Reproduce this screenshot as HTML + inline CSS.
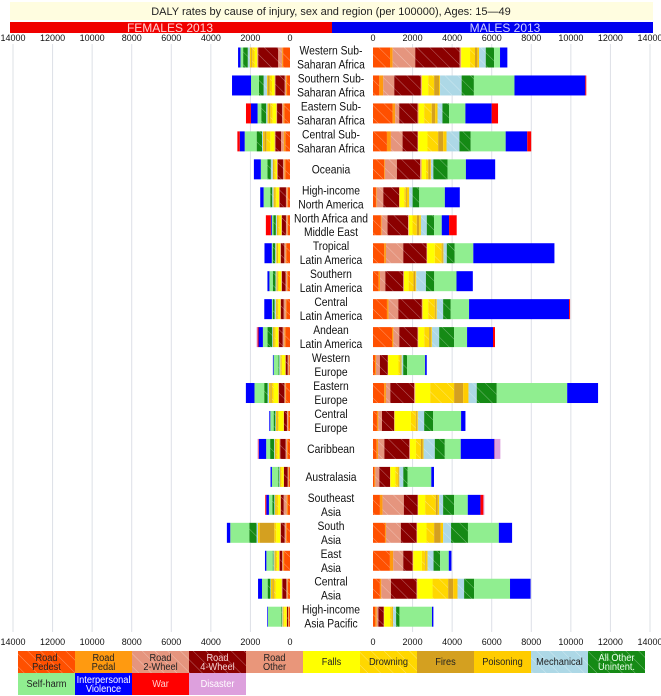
<!DOCTYPE html>
<html><head><meta charset="utf-8">
<style>
body{margin:0;background:#fff;font-family:"Liberation Sans",sans-serif;}
svg{display:block}
</style></head>
<body>
<svg id="chart" width="661" height="696" viewBox="0 0 661 696" xmlns="http://www.w3.org/2000/svg">
<defs>
<pattern id="hatch" width="9" height="9" patternUnits="userSpaceOnUse" patternTransform="rotate(-45)">
<line x1="0" y1="0" x2="0" y2="9" stroke="rgba(255,255,255,0.5)" stroke-width="0.8"/>
</pattern>
</defs>
<rect x="10" y="2" width="643" height="18" fill="#fffde0"/>
<text x="331" y="15" font-size="11" text-anchor="middle" fill="#222">DALY rates by cause of injury, sex and region (per 100000), Ages: 15—49</text>
<rect x="10" y="22" width="322" height="11" fill="#f00000"/>
<rect x="332" y="22" width="321" height="11" fill="#0000f0"/>
<text x="170" y="32" font-size="12" text-anchor="middle" fill="#ffd0d0">FEMALES 2013</text>
<text x="505" y="32" font-size="12" text-anchor="middle" fill="#d0d0ff">MALES 2013</text>
<g id="grid"></g>
<g id="axes"></g>
<g id="bars"></g>
<g id="labels"></g>
<g id="legend"></g>
</svg>
<script>
const regions=[["Western Sub-","Saharan Africa"],["Southern Sub-","Saharan Africa"],["Eastern Sub-","Saharan Africa"],["Central Sub-","Saharan Africa"],["Oceania"],["High-income","North America"],["North Africa and","Middle East"],["Tropical","Latin America"],["Southern","Latin America"],["Central","Latin America"],["Andean","Latin America"],["Western","Europe"],["Eastern","Europe"],["Central","Europe"],["Caribbean"],["Australasia"],["Southeast","Asia"],["South","Asia"],["East","Asia"],["Central","Asia"],["High-income","Asia Pacific"]];
const causes=["Road Pedest","Road Pedal","Road 2-Wheel","Road 4-Wheel","Road Other","Falls","Drowning","Fires","Poisoning","Mechanical","All Other Unintent","Self-harm","Interpersonal Violence","War","Disaster"];
const colors=["#ff5000","#ff9a10","#e5957e","#8b0000","#e9967a","#ffff00","#ffd700","#d4a020","#ffcc00","#add8e6","#158a15","#90ee90","#0000ff","#ff0000","#dda0dd"];
const hatched=[1,0,1,1,0,0,1,0,0,1,1,0,0,0,0];
const ticks=[0,2000,4000,6000,8000,10000,12000,14000];
const males=[
[860,135,1140,2250,70,450,250,120,85,340,420,300,370,0,0],
[320,200,555,1345,50,320,300,250,50,1090,620,2050,3580,50,0],
[990,135,200,925,50,285,385,170,120,250,335,825,1330,320,0],
[705,200,590,755,35,470,540,250,170,655,570,1765,1090,200,0],
[570,35,605,1175,70,220,120,100,35,120,720,925,1480,0,0],
[150,35,335,805,17,235,85,50,120,170,335,1295,755,0,0],
[400,35,300,1040,35,185,220,120,85,300,370,385,370,385,0],
[570,85,875,1175,35,385,350,50,35,170,400,940,4100,0,0],
[285,70,270,905,35,235,250,85,50,490,420,1125,825,0,0],
[705,85,490,1190,35,285,335,50,50,320,385,925,5055,50,0],
[960,70,300,925,35,300,250,85,50,370,755,655,1310,100,0],
[100,50,200,400,17,520,85,35,35,85,200,905,85,0,0],
[570,85,220,1210,50,755,1210,455,270,420,1010,3560,1560,0,0],
[200,70,185,620,17,825,250,50,50,320,455,1410,220,0,0],
[185,70,320,1260,35,300,250,85,50,570,505,805,1700,17,285],
[70,50,200,540,17,250,135,35,35,200,220,1195,135,0,0],
[350,135,1075,690,35,350,540,100,70,200,555,690,640,150,50],
[605,50,755,790,35,470,385,335,120,400,855,1560,670,0,0],
[855,170,505,470,35,435,170,35,85,300,335,435,135,0,0],
[350,70,490,1295,35,770,790,250,220,335,505,1815,1040,0,0],
[120,70,85,270,17,300,85,35,35,150,170,1645,70,0,0]];
const females=[
[350,50,200,1010,50,120,135,50,70,100,235,135,120,0,0],
[150,50,70,470,35,135,120,100,35,170,235,400,960,0,0],
[285,50,70,250,35,185,120,70,70,70,250,185,335,250,0],
[235,85,135,285,35,220,200,100,70,50,270,605,250,120,0],
[235,50,70,270,35,70,70,35,35,100,170,335,350,0,0],
[100,35,70,320,35,135,50,35,50,70,100,335,170,0,0],
[100,35,70,200,35,85,70,35,35,50,120,85,50,250,0],
[185,35,70,170,35,100,35,35,35,50,120,50,370,0,0],
[120,35,70,185,35,135,35,35,35,50,135,170,100,0,0],
[185,35,100,135,35,100,50,35,35,70,85,50,385,0,0],
[235,50,85,185,35,135,70,35,35,35,235,235,220,50,50],
[35,35,50,100,17,170,35,17,35,50,35,250,35,0,0],
[200,35,50,270,35,235,100,70,70,70,170,490,435,0,0],
[70,35,50,150,17,250,50,35,50,35,85,170,50,0,0],
[120,35,70,270,35,100,70,35,35,35,200,200,370,17,50],
[50,35,35,185,17,100,35,17,35,35,50,320,70,0,0],
[120,50,150,135,35,100,100,35,35,35,100,170,135,50,0],
[170,35,70,185,35,200,100,740,85,70,370,960,170,0,0],
[300,50,50,120,35,100,50,35,50,50,35,320,70,0,0],
[100,35,50,200,35,300,100,70,70,35,135,285,200,0,0],
[50,35,17,50,17,120,35,17,35,35,35,670,35,0,0]];

const NS="http://www.w3.org/2000/svg";
const K=277/14000;
const fx=v=>290-v*K, mx=v=>373+v*K;
const rowY=i=>57.5+i*27.96;
function mk(tag,attrs,parent){const e=document.createElementNS(NS,tag);for(const k in attrs)e.setAttribute(k,attrs[k]);parent.appendChild(e);return e;}
const grid=document.getElementById('grid'),axes=document.getElementById('axes'),bars=document.getElementById('bars'),labels=document.getElementById('labels'),legend=document.getElementById('legend');
ticks.forEach(t=>{
  [fx(t),mx(t)].forEach((x,j)=>{
    if(t>0){const g=mk('line',{x1:x,x2:x,y1:44,y2:632,stroke:'#dde0e6','stroke-width':1},grid);
    
    }
    [41,645].forEach(y=>{const tx=mk('text',{x:x,y:y,'font-size':9,'text-anchor':'middle',fill:'#111'},axes);tx.textContent=t;
    
    });
  });
});
regions.forEach((r,i)=>{
  const y=rowY(i)-10;
  [[males[i],1],[females[i],0]].forEach(([vals,m])=>{
    let c=0;
    vals.forEach((v,k)=>{
      if(v<=0)return;
      const a=m?mx(c):fx(c+v), b=m?mx(c+v):fx(c);
      const rc=mk('rect',{x:a,y:y,width:b-a,height:20,fill:colors[k]},bars);
      
      
      if(hatched[k]){const h=mk('rect',{x:a,y:y,width:b-a,height:20,fill:'url(#hatch)'},bars);
      
      }
      c+=v;
    });
  });
  const t=mk('text',{x:331,'font-size':12,'text-anchor':'middle',fill:'#111',transform:'translate(331,0) scale(0.86,1) translate(-331,0)'},labels);
  
  
  r.forEach((line,j)=>{const s=mk('tspan',{x:331,y:rowY(i)+4+(r.length===2?(j?7:-7):0)},t);s.textContent=line;});
});
const legLabels=[["Road","Pedest"],["Road","Pedal"],["Road","2-Wheel"],["Road","4-Wheel"],["Road","Other"],["Falls"],["Drowning"],["Fires"],["Poisoning"],["Mechanical"],["All Other","Unintent."],["Self-harm"],["Interpersonal","Violence"],["War"],["Disaster"]];
const legText=["#222","#222","#222","#f4d0d0","#222","#222","#222","#222","#222","#222","#e8ffe8","#222","#fff","#ffd0d0","#fff"];
causes.forEach((c,k)=>{
  const col=k<11?k:k-11,row=k<11?0:1;
  const x=18+col*57,y=651+row*22;
  const g=mk('g',{},legend);
  
  
  mk('rect',{x:x,y:y,width:57,height:22,fill:colors[k]},g);
  if(hatched[k])mk('rect',{x:x,y:y,width:57,height:22,fill:'url(#hatch)'},g);
  const cx=x+28.5;
  const t=mk('text',{x:cx,'font-size':10.5,'text-anchor':'middle',fill:legText[k],transform:`translate(${cx},0) scale(0.88,1) translate(${-cx},0)`},g);
  const L=legLabels[k];
  L.forEach((s,j)=>{const ts=mk('tspan',{x:cx,y:y+(L.length===2?(j?19:10):14)},t);ts.textContent=s;});
});
</script>
</body></html>
